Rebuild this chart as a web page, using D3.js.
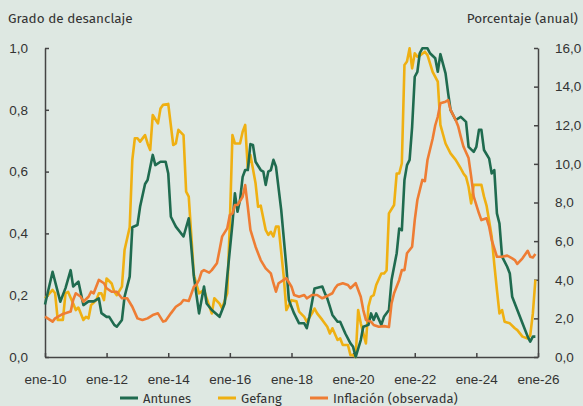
<!DOCTYPE html>
<html><head><meta charset="utf-8">
<script src="https://cdn.jsdelivr.net/npm/d3@7"></script>
<style>
html,body{margin:0;padding:0;background:#dee8e2;}
svg{display:block;font-family:"Fira Sans","Open Sans","Noto Sans",sans-serif;}
</style></head>
<body><svg id="chart" width="583" height="406"></svg>
<script>
// month offsets since ene-2010 and values
const antunesMonths = [0,3,6,8,10,11,13,15,17,19,21,22,24,25,27,28,30,31,33,34,36,37,39,40,42,43,45,47,48,49,51,54,56,57,58,60,62,63,65,68,70,71,73,74,75,76,77,78,79,80,81,82,84,85,86,87,88,89,90,92,94,95,97,99,101,102,103,105,108,109,110,111,112,114,115,117,119,120,121,123,124,126,127,128,129,131,132,134,135,137,138,139,140,141,142,143,144,145,146,147,149,150,152,153,154,156,157,158,160,162,164,165,167,168,169,170,171,173,174,175,176,177,178,180,181,182,184,186,188,189,190,191];
const antunesValues = [0.17,0.276,0.179,0.223,0.281,0.228,0.244,0.168,0.18,0.18,0.19,0.142,0.13,0.13,0.104,0.098,0.12,0.195,0.26,0.42,0.427,0.486,0.56,0.573,0.654,0.621,0.632,0.632,0.594,0.454,0.422,0.39,0.449,0.357,0.26,0.141,0.228,0.173,0.152,0.13,0.173,0.26,0.432,0.53,0.47,0.508,0.583,0.605,0.605,0.689,0.686,0.632,0.605,0.6,0.557,0.6,0.605,0.638,0.616,0.476,0.292,0.184,0.141,0.109,0.109,0.093,0.13,0.222,0.228,0.206,0.19,0.163,0.136,0.114,0.114,0.076,0.044,0.033,0.0,0.055,0.098,0.104,0.141,0.12,0.141,0.104,0.13,0.152,0.249,0.336,0.416,0.41,0.573,0.621,0.638,0.745,0.907,0.923,0.983,0.999,0.999,0.983,0.967,0.923,0.98,0.918,0.853,0.8,0.767,0.777,0.761,0.68,0.664,0.68,0.735,0.735,0.67,0.642,0.594,0.605,0.465,0.432,0.325,0.292,0.27,0.195,0.152,0.109,0.066,0.05,0.066,0.066];

const gefangMonths = [0,3,4,5,7,8,9,11,12,13,15,16,17,18,20,21,22,23,24,26,27,28,30,31,33,34,35,36,37,39,40,41,42,44,45,46,48,50,51,52,54,55,56,58,60,62,63,65,66,68,69,71,72,73,74,76,77,78,79,80,82,83,84,86,87,88,89,90,91,93,94,96,98,99,101,102,104,105,106,108,110,111,112,114,115,116,118,119,120,121,122,123,125,126,127,128,129,131,132,133,134,136,137,138,139,140,141,142,143,144,145,146,148,149,151,153,154,156,158,160,162,163,164,165,166,167,169,170,171,172,173,174,175,176,177,178,179,181,183,184,186,188,189,190,191];
const gefangValues = [0.19,0.217,0.206,0.12,0.12,0.206,0.211,0.173,0.152,0.16,0.12,0.13,0.125,0.168,0.184,0.206,0.206,0.184,0.254,0.238,0.211,0.2,0.228,0.346,0.42,0.638,0.708,0.708,0.697,0.718,0.691,0.67,0.783,0.756,0.804,0.816,0.819,0.686,0.691,0.735,0.718,0.535,0.519,0.265,0.206,0.217,0.19,0.141,0.19,0.173,0.157,0.206,0.432,0.718,0.691,0.691,0.729,0.751,0.61,0.654,0.562,0.486,0.49,0.411,0.395,0.405,0.39,0.422,0.422,0.26,0.152,0.184,0.18,0.147,0.13,0.114,0.141,0.157,0.141,0.12,0.098,0.076,0.093,0.055,0.06,0.039,0.039,0.006,0.006,0.0,0.152,0.109,0.044,0.163,0.195,0.2,0.233,0.27,0.27,0.28,0.465,0.492,0.594,0.594,0.627,0.945,0.956,0.999,0.934,0.983,0.972,0.975,0.988,0.977,0.923,0.891,0.751,0.691,0.659,0.638,0.61,0.594,0.583,0.551,0.497,0.557,0.557,0.557,0.519,0.49,0.44,0.39,0.3,0.217,0.141,0.152,0.114,0.109,0.093,0.087,0.066,0.06,0.07,0.141,0.25];

const inflacionMonths = [0,3,4,7,10,11,12,14,15,17,18,19,21,23,24,26,28,30,32,34,36,38,40,42,44,46,47,49,51,53,54,56,58,59,60,61,62,64,65,67,68,69,71,72,73,74,75,77,78,79,80,82,84,86,88,89,90,91,93,94,96,97,99,101,102,104,106,108,110,112,113,114,116,118,119,121,123,124,125,127,128,130,132,134,135,136,138,139,140,141,143,144,145,147,148,149,151,152,153,154,156,157,158,160,161,162,163,165,166,167,169,170,172,173,174,175,176,178,180,182,183,184,186,188,189,190,191];
const inflacionValues = [2.09,1.83,2.0,2.23,2.35,2.95,3.3,3.12,2.86,3.12,3.38,3.3,3.99,3.82,3.56,3.38,3.38,3.04,3.04,2.6,2.0,1.92,2.0,2.17,2.26,1.83,1.88,2.26,2.6,2.78,2.95,2.9,3.64,3.75,3.99,4.42,4.5,4.37,4.5,4.85,5.54,6.23,6.66,7.35,7.44,7.87,7.87,8.3,8.9,7.78,6.58,5.71,5.02,4.59,4.33,3.82,3.38,3.82,3.99,4.08,3.64,3.21,3.12,3.21,3.04,3.21,3.21,3.04,3.16,3.3,3.56,3.73,3.82,3.73,3.56,3.82,3.12,2.43,1.92,1.83,1.66,1.57,1.6,1.55,2.78,3.3,3.99,4.5,4.5,5.37,5.71,7.09,8.13,9.17,9.1,10.2,11.3,12.0,12.44,13.14,13.22,13.3,12.8,12.27,11.93,11.4,10.9,10.3,9.34,8.3,7.44,7.09,7.18,6.75,6.06,5.63,5.19,5.19,5.25,5.11,5.02,4.82,5.11,5.5,5.19,5.15,5.33];

const xTickYears = [2010,2012,2014,2016,2018,2020,2022,2024,2026];
const leftTicks = [0,0.2,0.4,0.6,0.8,1.0];
const rightTicks = [0,2,4,6,8,10,12,14,16];
const seriesNames = ["Antunes","Gefang","Inflación (observada)"];
const seriesColors = ["#1f6b4f","#efb012","#ee7d34"];

const svg = d3.select("#chart");
const pL = 45, pR = 538, pT = 48, pB = 357;
const toDate = m => new Date(2010 + Math.floor(m/12), m % 12, 1);
const x = d3.scaleTime().domain([new Date(2010,0,1), new Date(2026,0,1)]).range([pL, pR]);
const yL = d3.scaleLinear().domain([0,1]).range([pB, pT]);
const yR = d3.scaleLinear().domain([0,16]).range([pB, pT]);
const fmt = d3.format(".1f");
const comma = v => fmt(v).replace(".", ",");
const textColor = "#333";

// Axis titles
svg.append("text").attr("x", 8).attr("y", 23).attr("font-size", 13.5).attr("fill", textColor).text("Grado de desanclaje");
svg.append("text").attr("x", 578).attr("y", 23).attr("text-anchor","end").attr("font-size", 13.5).attr("fill", textColor).text("Porcentaje (anual)");

function styleAxis(g){
  g.select(".domain").attr("stroke","#444").attr("stroke-width",1.5);
  g.selectAll(".tick line").attr("stroke","#444").attr("stroke-width",1.5);
  g.selectAll(".tick text").attr("fill", textColor).attr("font-size", 13.5);
}

// Left axis (ticks inward)
const gL = svg.append("g").attr("transform", `translate(${pL},0)`)
  .call(d3.axisRight(yL).tickValues(leftTicks).tickSize(4).tickSizeOuter(0).tickFormat(comma));
styleAxis(gL);
gL.selectAll(".tick text").attr("x", -17).attr("text-anchor","end");

// Right axis (ticks inward)
const gR = svg.append("g").attr("transform", `translate(${pR},0)`)
  .call(d3.axisLeft(yR).tickValues(rightTicks).tickSize(4).tickSizeOuter(0).tickFormat(comma));
styleAxis(gR);
gR.selectAll(".tick text").attr("x", 17).attr("text-anchor","start");

// Bottom axis (ticks upward)
const gB = svg.append("g").attr("transform", `translate(0,${pB})`)
  .call(d3.axisTop(x).tickValues(xTickYears.map(y => new Date(y,0,1))).tickSize(4).tickSizeOuter(0)
    .tickFormat(d => "ene-" + String(d.getFullYear()).slice(2)));
styleAxis(gB);
gB.selectAll(".tick text").attr("y", 23).attr("dy", "0.32em");

// Lines
const series = [
  {months: antunesMonths, values: antunesValues, y: yL},
  {months: gefangMonths, values: gefangValues, y: yL},
  {months: inflacionMonths, values: inflacionValues, y: yR}
];
const order = [1,0,2];
order.forEach(i => {
  const s = series[i];
  const pts = s.months.map((m, k) => [toDate(m), s.values[k]]);
  svg.append("path").datum(pts)
    .attr("fill","none").attr("stroke", seriesColors[i]).attr("stroke-width", 2.6)
    .attr("stroke-linejoin","round")
    .attr("d", d3.line().x(d => x(d[0])).y(d => s.y(d[1])));
});

// Legend
const legendX = [120, 218, 310];
seriesNames.forEach((n, i) => {
  const g = svg.append("g").attr("transform", `translate(${legendX[i]},398)`);
  g.append("line").attr("x1",0).attr("x2",18).attr("y1",0).attr("y2",0).attr("stroke",seriesColors[i]).attr("stroke-width",3);
  g.append("text").attr("x", 23).attr("y", 0).attr("dy","0.36em").attr("font-size",13).attr("fill",textColor).text(n);
});
</script></body></html>
